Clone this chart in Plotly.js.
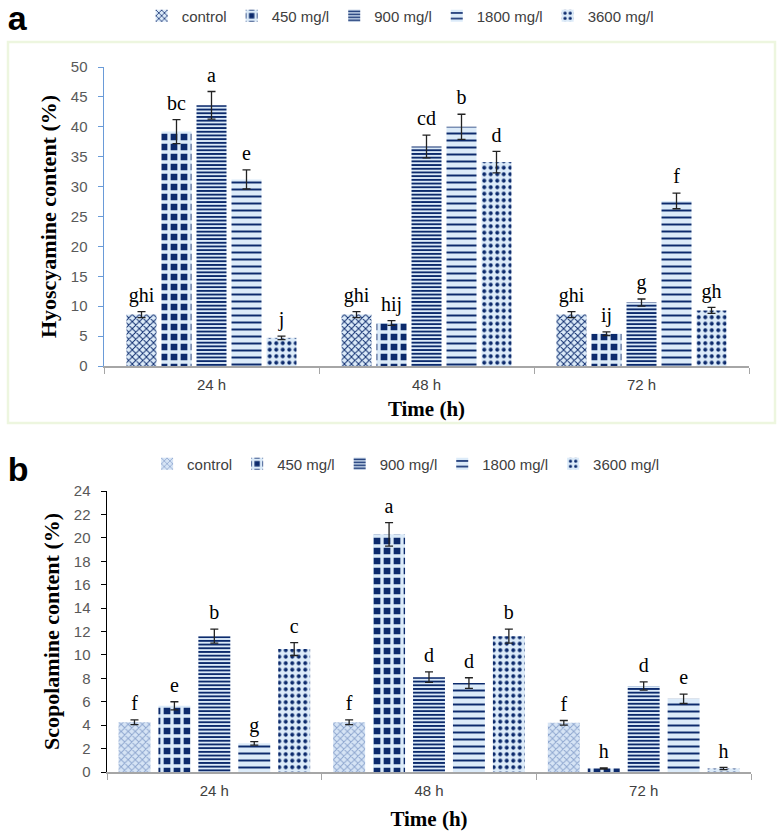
<!DOCTYPE html>
<html>
<head>
<meta charset="utf-8">
<script src="https://cdn.plot.ly/plotly-3.0.1.min.js"></script>
<style>
  body { margin: 0; background: #fff; }
  #chart-a { position: absolute; left: 0; top: 0; width: 780px; height: 440px; }
  #chart-b { position: absolute; left: 0; top: 440px; width: 780px; height: 393px; }
</style>
</head>
<body>
<div id="chart-a"></div>
<div id="chart-b"></div>
<script>
const times = ['24 h', '48 h', '72 h'];
const doses = ['control', '450 mg/l', '900 mg/l', '1800 mg/l', '3600 mg/l'];

// Hyoscyamine content (%), one array per dose over the three times
const hyoControl = [8.6, 8.6, 8.6];
const hyo450 = [39.2, 7.2, 5.4];
const hyo900 = [43.6, 36.7, 10.6];
const hyo1800 = [31.2, 40.0, 27.6];
const hyo3600 = [4.7, 34.1, 9.3];
const hyoErrControl = [0.5, 0.5, 0.5];
const hyoErr450 = [2.0, 0.4, 0.3];
const hyoErr900 = [2.3, 1.9, 0.6];
const hyoErr1800 = [1.6, 2.1, 1.3];
const hyoErr3600 = [0.3, 1.8, 0.5];
const hyoLetControl = ['ghi', 'ghi', 'ghi'];
const hyoLet450 = ['bc', 'hij', 'ij'];
const hyoLet900 = ['a', 'cd', 'g'];
const hyoLet1800 = ['e', 'b', 'f'];
const hyoLet3600 = ['j', 'd', 'gh'];

// Scopolamine content (%)
const scoControl = [4.25, 4.25, 4.2];
const sco450 = [5.65, 20.3, 0.3];
const sco900 = [11.6, 8.1, 7.35];
const sco1800 = [2.45, 7.6, 6.25];
const sco3600 = [10.5, 11.6, 0.3];
const scoErrControl = [0.2, 0.2, 0.2];
const scoErr450 = [0.35, 1.0, 0.05];
const scoErr900 = [0.6, 0.45, 0.35];
const scoErr1800 = [0.15, 0.45, 0.4];
const scoErr3600 = [0.55, 0.6, 0.1];
const scoLetControl = ['f', 'f', 'f'];
const scoLet450 = ['e', 'a', 'h'];
const scoLet900 = ['b', 'd', 'd'];
const scoLet1800 = ['g', 'd', 'e'];
const scoLet3600 = ['c', 'b', 'h'];

const NAVY = '#0c2a6c';
const PALE = '#dcebf9';

function patterns(controlFg, controlBg) {
    return [
        { shape: 'x', fgcolor: controlFg, bgcolor: controlBg, size: 5, solidity: 0.35 },
        { shape: '+', fgcolor: PALE, bgcolor: NAVY, size: 10, solidity: 0.55 },
        { shape: '-', fgcolor: NAVY, bgcolor: PALE, size: 3.7, solidity: 0.5 },
        { shape: '-', fgcolor: NAVY, bgcolor: PALE, size: 7, solidity: 0.28 },
        { shape: '.', fgcolor: NAVY, bgcolor: PALE, size: 6.5, solidity: 0.3 }
    ];
}

function buildTraces(series, errors, letters, pats) {
    const bars = series.map((vals, k) => ({
        type: 'bar', name: doses[k], x: times, y: vals,
        offsetgroup: 'g' + k,
        marker: { color: pats[k].bgcolor, pattern: pats[k], line: { width: 0 } },
        error_y: { type: 'data', array: errors[k], visible: true, color: '#222', thickness: 1.3, width: 4 },
        hoverinfo: 'x+y+name'
    }));
    // significance letters sit just above the error bar caps
    const labels = series.map((vals, k) => ({
        type: 'scatter', mode: 'markers+text', x: times,
        y: vals.map((v, i) => v + errors[k][i]),
        text: letters[k], textposition: 'top center',
        offsetgroup: 'g' + k,
        marker: { size: 6, opacity: 0 },
        textfont: { family: 'Liberation Serif', size: 20, color: '#000' },
        showlegend: false, hoverinfo: 'skip'
    }));
    return bars.concat(labels);
}

const tickFont = { family: 'Liberation Sans', size: 15, color: '#595959' };
const titleFont = { family: 'Liberation Serif', size: 22, color: '#000' };

function baseLayout(opts) {
    return {
        width: 780, height: opts.height,
        paper_bgcolor: '#fff', plot_bgcolor: '#fff',
        margin: opts.margin,
        barmode: 'group', bargap: opts.bargap, bargroupgap: opts.bargroupgap,
        scattermode: 'group', scattergap: opts.bargap,
        showlegend: true,
        title: {
            text: '<b>' + opts.panel + '</b>', xref: 'container', x: 0.01, xanchor: 'left',
            yref: 'container', y: opts.panelY, yanchor: 'top',
            font: { family: 'Liberation Sans', size: 34, color: '#000' }
        },
        legend: {
            orientation: 'h', xref: 'container', x: opts.legendX, xanchor: 'center',
            yref: 'container', y: opts.legendY, yanchor: 'middle',
            font: { family: 'Liberation Sans', size: 15, color: '#404040' },
            itemwidth: 30, traceorder: 'normal'
        },
        xaxis: {
            type: 'category', showline: true, linecolor: '#a6a6a6', linewidth: 1.5,
            ticks: 'outside', tickson: 'boundaries', ticklen: 6, tickcolor: '#a6a6a6',
            ticklabelstandoff: 4,
            tickfont: { family: 'Liberation Sans', size: 15, color: '#404040' },
            showgrid: false, zeroline: false,
            title: { text: '<b>Time (h)</b>', font: { family: 'Liberation Serif', size: 21, color: '#000' }, standoff: opts.xstandoff }
        },
        yaxis: {
            range: opts.yrange, dtick: opts.dtick, showline: true,
            linecolor: opts.ycolor, linewidth: 1.5,
            ticks: 'outside', ticklen: 5, tickcolor: opts.ycolor,
            ticklabelstandoff: 7,
            tickfont: tickFont, showgrid: false, zeroline: false,
            title: { text: '<b>' + opts.ytitle + '</b>', font: titleFont, standoff: 8 }
        },
        shapes: opts.shapes || []
    };
}

// chart a
const layoutA = baseLayout({
    height: 440, margin: { l: 104, r: 31, t: 67, b: 74 },
    bargap: 0.186, bargroupgap: 0.143, panel: 'a', panelY: 0.985,
    legendX: 0.513, legendY: 1 - 16 / 440, xstandoff: 10,
    yrange: [0, 50], dtick: 5, ycolor: '#6a9bd8',
    ytitle: 'Hyoscyamine content (%)',
    shapes: [{
        type: 'rect', xref: 'paper', yref: 'paper',
        x0: (8 - 104) / 645, x1: (775 - 104) / 645,
        y0: (366 - 423) / 299, y1: (366 - 42) / 299,
        line: { color: '#edf6df', width: 2.5 }, fillcolor: 'rgba(0,0,0,0)', layer: 'below'
    }]
});
const tracesA = buildTraces(
    [hyoControl, hyo450, hyo900, hyo1800, hyo3600],
    [hyoErrControl, hyoErr450, hyoErr900, hyoErr1800, hyoErr3600],
    [hyoLetControl, hyoLet450, hyoLet900, hyoLet1800, hyoLet3600],
    patterns(NAVY, PALE)
);
Plotly.newPlot('chart-a', tracesA, layoutA, { displayModeBar: false, staticPlot: true });

// chart b
const layoutB = baseLayout({
    height: 393, margin: { l: 107, r: 29, t: 51, b: 61 },
    bargap: 0.07, bargroupgap: 0.2, panel: 'b', panelY: 0.955,
    legendX: 0.52, legendY: 1 - 24 / 393, xstandoff: 14,
    yrange: [0, 24], dtick: 2, ycolor: '#000',
    ytitle: 'Scopolamine content (%)'
});
const tracesB = buildTraces(
    [scoControl, sco450, sco900, sco1800, sco3600],
    [scoErrControl, scoErr450, scoErr900, scoErr1800, scoErr3600],
    [scoLetControl, scoLet450, scoLet900, scoLet1800, scoLet3600],
    patterns('#8ea6cf', '#d6e4f5')
);
Plotly.newPlot('chart-b', tracesB, layoutB, { displayModeBar: false, staticPlot: true });
</script>
</body>
</html>
